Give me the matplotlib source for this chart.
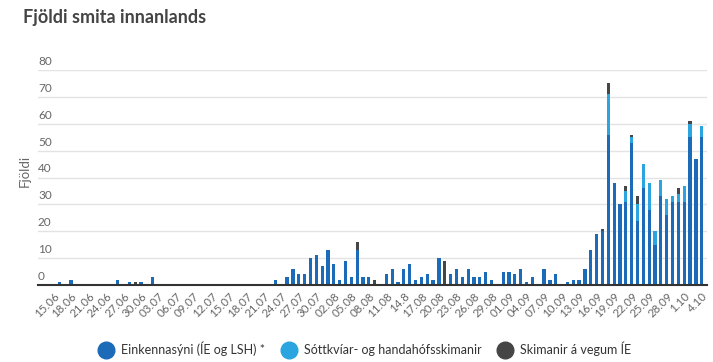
import matplotlib
matplotlib.use('Agg')
import matplotlib.pyplot as plt
import matplotlib.transforms as mtransforms
from matplotlib.lines import Line2D
import numpy as np

plt.rcParams['font.family'] = ['Lato', 'DejaVu Sans']

# daily counts 15.06 - 4.10 (112 days)
einkenni = [
    0, 1, 0, 2, 0, 0, 0, 0, 0, 0, 0, 2, 0, 1, 0, 1,            # 15.06-30.06
    0, 3, 0, 0, 0, 0, 0, 0, 0, 0, 0, 0, 0, 0, 0, 0,            # 01.07-16.07
    0, 0, 0, 0, 0, 0, 2, 0, 3, 6, 4, 4, 10, 11, 7,             # 17.07-31.07
    13, 8, 2, 9, 3, 13, 3, 3, 0, 0, 4, 6, 1, 6, 8, 2,          # 01.08-16.08
    3, 4, 2, 10, 0, 4, 6, 3, 6, 3, 3, 5, 2, 0, 5,              # 17.08-31.08
    5, 4, 6, 1, 3, 0, 6, 2, 4, 0, 1, 2, 2, 6, 13,              # 01.09-15.09
    19, 20, 56, 38, 30, 31, 53, 24, 36, 28, 15, 33, 26, 31, 31, # 16.09-30.09
    31, 55, 47, 55,                                            # 01.10-04.10
]
sottkvi = [0] * 95 + [15, 0, 0, 4, 2, 6, 9, 10, 5, 6, 6, 2, 3, 6, 5, 0, 4]
skimun_ie = [0] * 112
skimun_ie[14] = 1
skimun_ie[52] = 3
skimun_ie[55] = 2
skimun_ie[67] = 9
skimun_ie[94] = 1
skimun_ie[95] = 4
skimun_ie[98] = 2
skimun_ie[99] = 1
skimun_ie[100] = 3
skimun_ie[107] = 2
skimun_ie[109] = 1

tick_labels = ['15.06', '18.06', '21.06', '24.06', '27.06', '30.06', '03.07',
               '06.07', '09.07', '12.07', '15.07', '18.07', '21.07', '24.07',
               '27.07', '30.07', '02.08', '05.08', '08.08', '11.08', '14.8',
               '17.08', '20.08', '23.08', '26.08', '29.08', '01.09', '04.09',
               '07.09', '10.09', '13.09', '16.09', '19.09', '22.09', '25.09',
               '28.09', '1.10', '4.10']
y_ticks = [0, 10, 20, 30, 40, 50, 60, 70, 80]

series_names = ['Einkennasýni (ÍE og LSH) *', 'Sóttkvíar- og handahófsskimanir',
                'Skimanir á vegum ÍE']
colors = ['#1b6bb8', '#2aa5df', '#464646']

fig = plt.figure(figsize=(7.13, 3.62), dpi=100)
ax = fig.add_axes([38 / 713, 1 - 285 / 362, 669 / 713, 215 / 362])

x = np.arange(len(einkenni))
e = np.array(einkenni)
s = np.array(sottkvi)
g = np.array(skimun_ie)
ax.bar(x, e, width=0.55, color=colors[0], zorder=2)
ax.bar(x, s, bottom=e, width=0.55, color=colors[1], zorder=2)
ax.bar(x, g, bottom=e + s, width=0.55, color=colors[2], zorder=2)

ax.set_xlim(-2.65, 111.9)
ax.set_ylim(0, 80)

ax.set_xticks(x[::3])
ax.set_xticklabels(tick_labels, rotation=45, ha='right', va='top',
                   rotation_mode='anchor', fontsize=8.3, color='#666666')
ax.tick_params(axis='x', length=0, pad=4)

ax.set_yticks(y_ticks)
ax.set_yticklabels([])
ax.tick_params(axis='y', length=0)
ax.grid(axis='y', color='#e3e3e3', linewidth=1, zorder=0)
ax.set_axisbelow(True)

# y labels sit on top of the gridlines, left aligned
off = mtransforms.offset_copy(ax.get_yaxis_transform(), fig=fig, x=0, y=3, units='dots')
for v in y_ticks:
    ax.text(0, v, str(v), transform=off, ha='left', va='bottom',
            fontsize=8.5, color='#666666')

for side in ['top', 'right', 'left']:
    ax.spines[side].set_visible(False)
ax.spines['bottom'].set_color('#333333')
ax.spines['bottom'].set_linewidth(1.5)
ax.spines['bottom'].set_zorder(3)

fig.text(25 / 713, 1 - 171 / 362, 'Fjöldi', rotation=90, ha='center', va='center',
         fontsize=9.5, color='#666666')
fig.text(23 / 713, 1 - 17 / 362, 'Fjöldi smita innanlands', fontsize=13,
         fontweight='bold', color='#444444', va='center')

handles = [Line2D([], [], marker='o', ls='', markersize=12, color=c) for c in colors]
fig.legend(handles, series_names, loc='center', bbox_to_anchor=(0.508, 0.036),
           ncol=3, frameon=False, handletextpad=0.2, columnspacing=0.9,
           fontsize=9, labelcolor='#333333')

fig.savefig('out.png', dpi=100)
